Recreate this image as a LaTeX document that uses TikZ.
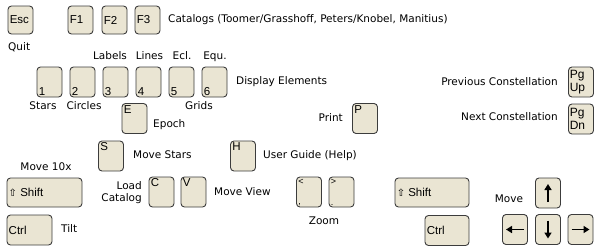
\documentclass[tikz,border=0pt]{standalone}
\usepackage{fontspec}
\setmainfont{DejaVu Sans}
\newfontfamily\keyfont{Liberation Sans}
\usetikzlibrary{positioning,arrows.meta}
\definecolor{keyfill}{HTML}{EAE5D3}
\definecolor{keyline}{HTML}{3C3C3C}

\begin{document}
\begin{tikzpicture}[x=1pt, y=-1pt,
    key/.style={draw=keyline, fill=keyfill, rounded corners=3.5pt, line width=0.9pt,
                minimum width=25pt, minimum height=30pt, inner sep=0pt},
    ktxt/.style={font=\keyfont\fontsize{11.5}{11.5}\selectfont, inner sep=2pt},
    tl/.style={label={[ktxt, anchor=north west]north west:#1}},
    bl/.style={label={[ktxt, anchor=south west]south west:#1}},
    ml/.style={label={[ktxt, anchor=west]west:#1}},
    pg/.style={label={[ktxt, anchor=west, align=left, inner sep=1.5pt,
                font=\keyfont\fontsize{12}{12.5}\selectfont]west:#1}},
    lab/.style={font=\fontsize{10.5}{12}\selectfont, inner sep=0pt,
                text height=7.8pt, text depth=2.2pt},
    dir/.style={-{Triangle[length=6pt,width=7pt]}, line width=1.7pt},
  ]
  \useasboundingbox (0,0) rectangle (600,250);

  % top row
  \node[key, minimum height=28pt, ml=Esc] (esc) at (20.5,20) {};
  \node[key, minimum height=28pt, ml=F1] (f1) at (80.5,20) {};
  \node[key, minimum height=28pt, ml=F2] (f2) at (114.5,20) {};
  \node[key, minimum height=28pt, ml=F3] (f3) at (147.5,20) {};
  \node[lab, anchor=west] (quit) at (8,48) {Quit};
  \node[lab, anchor=west] (cat) at (168,20)
    {Catalogs (Toomer/Grasshoff, Peters/Knobel, Manitius)};

  % display elements
  \node[key, bl=1] (k1) at (49.5,82) {};
  \node[key, bl=2] (k2) at (82.5,82) {};
  \node[key, bl=3] (k3) at (115.5,82) {};
  \node[key, bl=4] (k4) at (148.5,82) {};
  \node[key, bl=5] (k5) at (181.5,82) {};
  \node[key, bl=6] (k6) at (214.5,82) {};
  \node[lab] (labels) at (110,57) {Labels};
  \node[lab] (lines) at (149.5,57) {Lines};
  \node[lab] (ecl) at (182,57) {Ecl.};
  \node[lab] (equ) at (215,57) {Equ.};
  \node[lab] (stars) at (43,107) {Stars};
  \node[lab] (circles) at (84,107) {Circles};
  \node[lab] (grids) at (199,107) {Grids};
  \node[lab, anchor=west] (disp) at (236,82) {Display Elements};

  \node[key, tl=E] (e) at (134.5,118.5) {};
  \node[lab, anchor=west] (epoch) at (153,125) {Epoch};
  \node[key, tl=P] (p) at (365,118.5) {};
  \node[lab, anchor=east] (print) at (343,119) {Print};

  \node[key, pg={Pg\\Up}] (pgup) at (581,82) {};
  \node[key, pg={Pg\\Dn}] (pgdn) at (581,119) {};
  \node[lab, anchor=east] (prev) at (558,83) {Previous Constellation};
  \node[lab, anchor=east] (next) at (558,118) {Next Constellation};

  \node[key, tl=S] (s) at (111,156) {};
  \node[lab, anchor=west] (mstars) at (133,156) {Move Stars};
  \node[key, tl=H] (h) at (243,156) {};
  \node[lab, anchor=west] (help) at (263,156) {User Guide (Help)};

  % bottom rows
  \node[key, minimum width=75pt, minimum height=29pt,
        ml={{\normalfont\fontsize{10}{10}\selectfont ⇧} Shift}] (shiftl) at (44.5,192.5) {};
  \node[lab] (ten) at (46,168) {Move 10x};
  \node[key, minimum width=45pt, ml=Ctrl] (ctrll) at (29.5,230) {};
  \node[lab, anchor=west] (tilt) at (61,230) {Tilt};

  \node[key, tl=C] (c) at (161.5,192) {};
  \node[key, tl=V] (v) at (193.5,192) {};
  \node[lab, anchor=east, align=right] (load) at (142,199) {Load\\Catalog};
  \node[lab, anchor=west] (mview) at (214,193) {Move View};

  \node[key, tl={\fontsize{9}{9}\selectfont<}, bl={\fontsize{9}{9}\selectfont,}] (lt) at (309,192) {};
  \node[key, tl={\fontsize{9}{9}\selectfont>}, bl={\fontsize{9}{9}\selectfont.}] (gt) at (341.5,192) {};
  \node[lab] (zoom) at (324,222) {Zoom};

  \node[key, minimum width=74pt, minimum height=29pt,
        ml={{\normalfont\fontsize{10}{10}\selectfont ⇧} Shift}] (shiftr) at (432,192.5) {};
  \node[key, minimum width=44pt, ml=Ctrl] (ctrlr) at (447,230.5) {};

  \node[key] (up) at (548,193) {};
  \node[key] (left) at (515,229.5) {};
  \node[key] (down) at (548,229.5) {};
  \node[key] (right) at (580.5,229.5) {};
  \node[lab] (move) at (509,200) {Move};
  \draw[dir] ([yshift=-9pt]up.center) -- ([yshift=9pt]up.center);
  \draw[dir] ([yshift=9pt]down.center) -- ([yshift=-9pt]down.center);
  \draw[dir] ([xshift=9pt]left.center) -- ([xshift=-9pt]left.center);
  \draw[dir] ([xshift=-9pt]right.center) -- ([xshift=9pt]right.center);
\end{tikzpicture}
\end{document}
